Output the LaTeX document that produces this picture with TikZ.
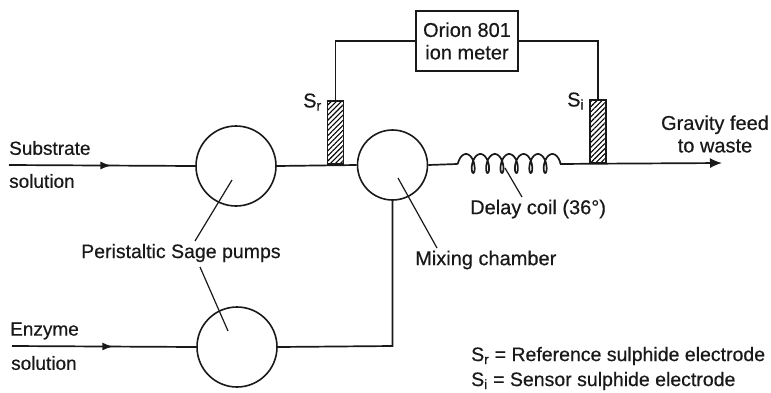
\documentclass[tikz,border=0pt]{standalone}
\usepackage{fontspec}
\setmainfont[FakeBold=0.5]{Liberation Sans}
\usetikzlibrary{arrows.meta,patterns.meta,decorations.markings}
\tikzset{
  wire/.style={line width=1.7pt,draw=black!90},
  flow/.style={wire,postaction={decorate},decoration={markings,mark=at position #1 with {\arrow{Latex[length=11pt,width=8pt]}}}},
  vessel/.style={circle,draw=black!90,line width=1.6pt,minimum size=#1,inner sep=0pt},
  electrode/.style={draw=black!90,line width=1.4pt,minimum width=16pt,minimum height=63pt,inner sep=0pt,pattern={Lines[angle=45,distance=3.6pt,line width=1.1pt]}},
  lab/.style={font=\fontsize{20}{22.5}\selectfont,text=black!90,inner sep=0pt,align=left},
  labsmall/.style={lab,font=\fontsize{19.5}{22.5}\selectfont},
  lableft/.style={lab,font=\fontsize{19}{22.5}\selectfont},
  leader/.style={line width=1.2pt,draw=black!90}
}
\begin{document}
\begin{tikzpicture}[x=1pt,y=-1pt]
\useasboundingbox (0,0) rectangle (771,392);
\node[vessel=80pt] (p1) at (236,166) {};
\node[vessel=80pt] (p2) at (237,347) {};
\node[vessel=70pt] (mix) at (392.5,165) {};
\node[draw=black!90,line width=1.6pt,minimum width=102pt,minimum height=60pt,lab,align=center] (meter) at (467,41) {Orion 801\\ion meter};
\node[electrode] (sr) at (335.5,132.5) {};
\node[electrode] (si) at (598,131.5) {};
\coordinate (subin) at (9,165);
\coordinate (enzin) at (12,346);
\coordinate (coilin) at (457,164);
\coordinate (coilout) at (560,164);
\coordinate (out) at (722,163);
\coordinate (join) at (392.5,346);
\coordinate (mrl) at (335.5,41);
\coordinate (mrr) at (598,41);
\draw[flow=0.55] (subin) -- (p1.west);
\draw[flow=0.55] (enzin) -- (p2.west);
\draw[wire] (p1.east) -- (mix.west);
\draw[wire] (p2.east) -- (join) -- (mix.south);
\draw[wire] (mix.east) -- (coilin);
\draw[wire,line join=round] (coilin) -- plot[smooth,samples=170,domain=-90:2250,variable=\t] ({466+0.04*\t+4.5*sin(\t)},{163.5-9.5*cos(\t)}) -- (coilout);
\draw[wire] (coilout) -- (si.south);
\draw[wire,-{Latex[length=12pt,width=10pt]}] (si.south) -- (out);
\draw[wire] (meter.west |- mrl) -- (mrl) -- (sr.north);
\draw[wire] (meter.east |- mrr) -- (mrr) -- (si.north);
\node[lableft,anchor=west] (tsub) at (9,148) {Substrate};
\node[lableft,anchor=west] (tsol) at (9,181) {solution};
\node[lableft,anchor=west] (tenz) at (10,331) {Enzyme};
\node[lableft,anchor=west] (tesol) at (11,363) {solution};
\node[lab,anchor=west] (tsr) at (303,102) {S\textsubscript{r}};
\node[lab,anchor=west] (tsi) at (567,101) {S\textsubscript{i}};
\node[lab,anchor=center,align=center] (tout) at (715,134) {Gravity feed\\to waste};
\node[lab,anchor=west] (tcoil) at (470,209) {Delay coil (36°)};
\node[lab,anchor=west] (tmix) at (415,260) {Mixing chamber};
\node[labsmall,anchor=west] (tpump) at (81,253) {Peristaltic Sage pumps};
\node[labsmall,anchor=west] (tkr) at (471,356) {S\textsubscript{r} = Reference sulphide electrode};
\node[labsmall,anchor=west] (tks) at (471,381) {S\textsubscript{i} = Sensor sulphide electrode};
\coordinate (lp1) at (232,180);
\coordinate (lp2) at (228,331);
\coordinate (lm) at (398,178);
\coordinate (lc) at (505,168);
\draw[leader] (lp1) -- (195,241);
\draw[leader] (200,267) -- (lp2);
\draw[leader] (lm) -- (437,248);
\draw[leader] (lc) -- (522,197);
\end{tikzpicture}
\end{document}
